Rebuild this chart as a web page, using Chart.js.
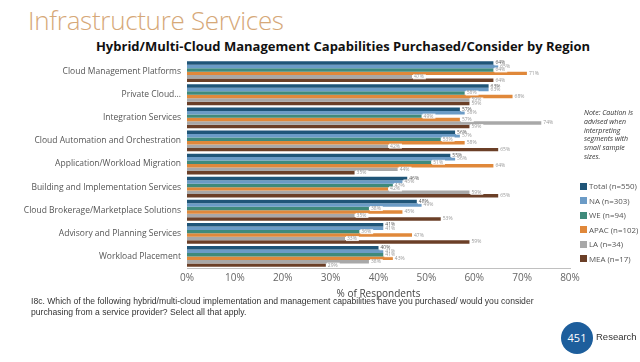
<!DOCTYPE html>
<html>
<head>
<meta charset="utf-8">
<script src="https://cdn.jsdelivr.net/npm/chart.js@4"></script>
<style>
  body { margin:0; width:640px; height:362px; background:#fff; font-family:"Open Sans", "Noto Sans", sans-serif; position:relative; overflow:hidden; }
  #head { position:absolute; left:28px; top:2px; font-size:26px; font-weight:300; color:#d6a878; letter-spacing:-0.3px; }
  #sub { position:absolute; left:0; width:686px; top:37px; text-align:center; font-size:13px; font-weight:bold; color:#111; }
  #wrap { position:absolute; left:0; top:49px; width:590px; height:251px; }
  #note { position:absolute; left:584px; top:109px; width:52px; font-size:7px; font-style:italic; color:#333; line-height:8.8px; }
  #legend { position:absolute; left:580px; top:181px; font-size:7.9px; color:#555; }
  #legend div { height:14.6px; white-space:nowrap; }
  #legend span { display:inline-block; width:7px; height:7px; margin-right:2px; vertical-align:-0.5px; }
  #foot { position:absolute; left:31px; top:296px; font-size:8.6px; color:#333; line-height:11px; font-family:"Liberation Sans", sans-serif; }
  #logo { position:absolute; left:561px; top:322px; }
  #logo .c { position:absolute; left:0; top:0; width:32px; height:32px; border-radius:50%; background:#1d5e9c; color:#fff; font-size:11px; line-height:32px; text-align:center; }
  #logo .t { position:absolute; left:35px; top:9px; font-size:9.5px; color:#333; font-family:"Liberation Sans", sans-serif; }
</style>
</head>
<body>
<div id="head">Infrastructure Services</div>
<div id="sub">Hybrid/Multi-Cloud Management Capabilities Purchased/Consider by Region</div>
<div id="wrap"><canvas id="chart" width="590" height="251"></canvas></div>
<div id="note">Note: Caution is advised when interpreting segments with small sample sizes.</div>
<div id="legend"></div>
<div id="foot">I8c. Which of the following hybrid/multi-cloud implementation and management capabilities have you purchased/ would you consider<br>purchasing from a service provider? Select all that apply.</div>
<div id="logo"><div class="c">451</div><div class="t">Research</div></div>
<script>
// categories
let categories = ["Cloud Management Platforms","Private Cloud...","Integration Services","Cloud Automation and Orchestration","Application/Workload Migration","Building and Implementation Services","Cloud Brokerage/Marketplace Solutions","Advisory and Planning Services","Workload Placement"];
let seriesNames = ["Total (n=550)","NA (n=303)","WE (n=94)","APAC (n=102)","LA (n=34)","MEA (n=17)"];
let seriesColors = ["#1f5578","#6b9bc6","#3f8a7b","#e0883a","#a8a8a8","#6b3f27"];

// values (% of respondents)
let totalVals = [64,63,57,56,55,46,48,41,40];
let naVals    = [65,63,58,57,56,45,49,41,41];
let weVals    = [64,58,49,53,51,43,38,36,41];
let apacVals  = [71,68,57,58,64,42,45,47,43];
let laVals    = [47,59,74,42,44,59,35,33,38];
let meaVals   = [64,59,59,65,35,65,53,59,29];
let xTicks = [0,10,20,30,40,50,60,70,80];

let allVals = [totalVals,naVals,weVals,apacVals,laVals,meaVals];

// 凡例
let lg = document.getElementById("legend");
seriesNames.forEach((n,i)=>{
  let d = document.createElement("div");
  d.innerHTML = `<span style="background:${seriesColors[i]}"></span>${n}`;
  lg.appendChild(d);
});

// バー端のラベル
let endLabels = {
  id:"endLabels",
  afterDatasetsDraw(chart){
    let ctx = chart.ctx;
    ctx.save();
    ctx.font = "5px 'Open Sans', sans-serif";
    ctx.textBaseline = "middle";
    chart.data.datasets.forEach((ds,di)=>{
      chart.getDatasetMeta(di).data.forEach((bar,i)=>{
        let t = ds.data[i] + "%";
        let w = ctx.measureText(t).width;
        ctx.fillStyle = "rgba(255,255,255,0.85)";
        ctx.fillRect(bar.x+1, bar.y-2.5, w+3, 5);
        ctx.fillStyle = di==0 ? "#555" : "#999";
        ctx.fillText(t, bar.x+2, bar.y);
      });
    });
    ctx.restore();
  }
};

new Chart(document.getElementById("chart"), {
  type:"bar",
  data:{
    labels:categories,
    datasets:allVals.map((v,i)=>({label:seriesNames[i], data:v, backgroundColor:seriesColors[i], barPercentage:1, categoryPercentage:0.9}))
  },
  options:{
    indexAxis:"y",
    responsive:false,
    animation:false,
    layout:{padding:{top:8, right:20, left:0, bottom:0}},
    plugins:{legend:{display:false}, tooltip:{enabled:false}},
    scales:{
      x:{
        min:0, max:80,
        afterBuildTicks(s){ s.ticks = xTicks.map(v=>({value:v})); },
        grid:{display:false, drawTicks:false},
        border:{display:true, color:"#c0c0c0"},
        ticks:{callback:v=>v+"%", color:"#666", font:{size:10, family:"'Open Sans', sans-serif"}, padding:4, maxRotation:0, autoSkip:false},
        title:{display:true, text:"% of Respondents", color:"#444", font:{size:10, family:"'Open Sans', sans-serif"}, padding:{top:0, bottom:0}}
      },
      y:{
        afterFit(s){ s.width = 187; },
        grid:{display:false, drawTicks:false},
        border:{display:false},
        ticks:{color:"#555", font:{size:8.5, family:"'Open Sans', sans-serif"}, padding:6, autoSkip:false}
      }
    }
  },
  plugins:[endLabels]
});
</script>
</body>
</html>
